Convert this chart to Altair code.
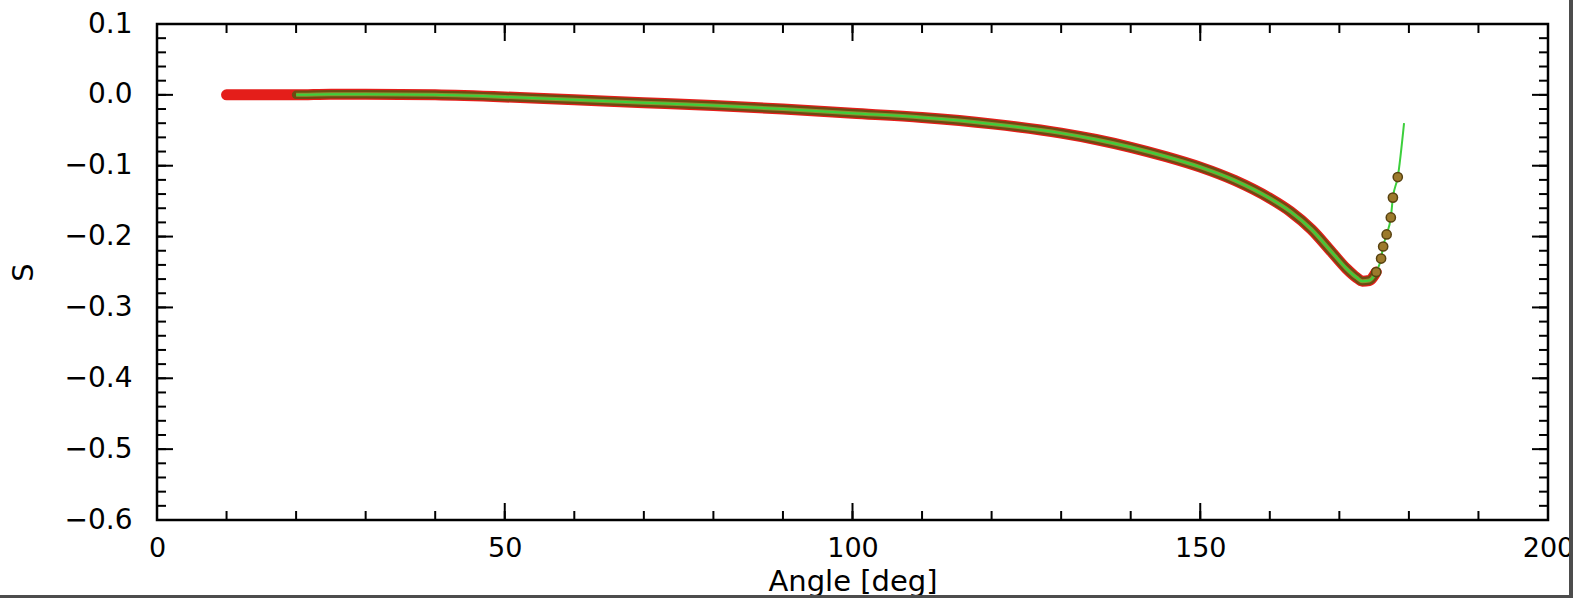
import altair as alt
import pandas as pd

# ---- data ----
angle_obs = [10, 15, 20, 25, 30, 40, 50, 60, 70, 80, 90, 100, 110, 120, 130, 135, 140, 145,
             150, 155, 160, 163, 166, 169, 171, 172.5, 173.3, 174.3, 175.3, 176.0, 176.3,
             176.8, 177.4, 177.7, 178.4]
s_obs = [0.0, 0.0, 0.0, 0.001, 0.001, 0.0, -0.003, -0.007, -0.011, -0.015, -0.020, -0.026,
         -0.032, -0.041, -0.054, -0.063, -0.074, -0.087, -0.102, -0.121, -0.146, -0.165,
         -0.190, -0.223, -0.245, -0.258, -0.263, -0.262, -0.250, -0.231, -0.214, -0.197,
         -0.173, -0.145, -0.116]

angle_model = [20, 25, 30, 40, 50, 60, 70, 80, 90, 100, 110, 120, 130, 135, 140, 145, 150,
               155, 160, 163, 166, 169, 171, 172.5, 173.3, 174.3, 175.3, 176.0, 176.3, 176.8,
               177.4, 177.7, 178.4, 179.3]
s_model = [0.0, 0.001, 0.001, 0.0, -0.003, -0.007, -0.011, -0.015, -0.020, -0.026, -0.032,
           -0.041, -0.054, -0.063, -0.074, -0.087, -0.102, -0.121, -0.146, -0.165, -0.190,
           -0.223, -0.245, -0.258, -0.263, -0.262, -0.250, -0.231, -0.214, -0.197, -0.173,
           -0.145, -0.116, -0.040]

x_labels = [0, 50, 100, 150, 200]
x_minor = [0, 10, 20, 30, 40, 50, 60, 70, 80, 90, 100, 110, 120, 130, 140, 150, 160, 170,
           180, 190, 200]
y_labels = [-0.6, -0.5, -0.4, -0.3, -0.2, -0.1, 0.0, 0.1]
y_minor = [round(-0.6 + 0.02 * i, 2) for i in range(36)]

W, H = 1391, 496
FONT = "DejaVu Sans"

obs = pd.DataFrame({"angle": angle_obs, "s": s_obs})
model = pd.DataFrame({"angle": angle_model, "s": s_model})
xt_minor = pd.DataFrame({"v": x_minor})
xt_major = pd.DataFrame({"v": x_labels})
yt_minor = pd.DataFrame({"v": y_minor})
yt_major = pd.DataFrame({"v": y_labels})

xscale = alt.Scale(domain=[0, 200], nice=False, zero=False)
yscale = alt.Scale(domain=[-0.6, 0.1], nice=False, zero=False)

x_axis = alt.Axis(values=x_labels, format="d", domain=False, ticks=False, tickSize=0,
                  grid=False, labelFont=FONT, labelFontSize=27, labelFontWeight=500,
                  labelColor="black", labelPadding=15, labelFlush=False,
                  title="Angle [deg]", titleFont=FONT, titleFontSize=29,
                  titleFontWeight=500, titleColor="black",
                  titleBaseline="top", titleY=47)
y_axis = alt.Axis(values=y_labels, format=".1f", domain=False, ticks=False, tickSize=0,
                  grid=False, labelFont=FONT, labelFontSize=28, labelFontWeight=500,
                  labelColor="black", labelPadding=25, labelFlush=False, title="S",
                  titleFont=FONT, titleFontSize=29, titleFontWeight=500,
                  titleColor="black", titleAngle=-90, titleBaseline="middle",
                  titleAlign="center", titleX=-134, titleY=H / 2)

X = alt.X("angle:Q", scale=xscale, axis=x_axis)
Y = alt.Y("s:Q", scale=yscale, axis=y_axis)

base_obs = alt.Chart(obs)

red = base_obs.mark_line(color="#e41e1a", strokeWidth=11, strokeCap="round",
                         interpolate="monotone").encode(x=X, y=Y).transform_filter(
    "datum.angle <= 175.3")
brown = base_obs.mark_line(color="#6e4b12", strokeWidth=8.5, strokeCap="round",
                           interpolate="monotone").encode(x=X, y=Y).transform_filter(
    "datum.angle >= 20 && datum.angle <= 175.3")
olive = base_obs.mark_line(color="#8c9230", strokeWidth=4,
                           interpolate="monotone").encode(x=X, y=Y).transform_filter(
    "datum.angle >= 20 && datum.angle <= 175.3")
pts = base_obs.mark_point(shape="circle", filled=True, size=85, color="#9c7a2c",
                          stroke="#584210", strokeWidth=1.5, opacity=1).encode(
    x=X, y=Y).transform_filter("datum.angle >= 175.3")
green = alt.Chart(model).mark_line(color="#3ccf3c", strokeWidth=2,
                                   interpolate="monotone").encode(x=X, y=Y)


def xticks(df, length):
    c = alt.Chart(df).mark_rule(color="black", strokeWidth=2)
    xv = alt.X("v:Q", scale=xscale, axis=x_axis)
    bottom = c.encode(x=xv, y=alt.value(H), y2=alt.value(H - length))
    top = c.encode(x=xv, y=alt.value(0), y2=alt.value(length))
    return [bottom, top]


def yticks(df, length):
    c = alt.Chart(df).mark_rule(color="black", strokeWidth=2)
    yv = alt.Y("v:Q", scale=yscale, axis=y_axis)
    left = c.encode(y=yv, x=alt.value(0), x2=alt.value(length))
    right = c.encode(y=yv, x=alt.value(W), x2=alt.value(W - length))
    return [left, right]


ticks = xticks(xt_minor, 9) + xticks(xt_major, 17) + yticks(yt_minor, 9) + yticks(yt_major, 16)

strip_df = pd.DataFrame({"k": [0]})
strip_r = alt.Chart(strip_df).mark_rect(color="#4d4d4d").encode(
    x=alt.value(W + 21), x2=alt.value(W + 30), y=alt.value(-30), y2=alt.value(H + 90))
strip_b = alt.Chart(strip_df).mark_rect(color="#4d4d4d").encode(
    x=alt.value(-200), x2=alt.value(W + 30), y=alt.value(H + 75), y2=alt.value(H + 90))

chart = alt.layer(red, brown, olive, green, pts, *ticks, strip_r, strip_b).properties(
    width=W, height=H,
    padding={"left": 157, "top": 24, "right": 25, "bottom": 78},
    autosize=alt.AutoSizeParams(type="none"),
    background="white",
).configure_view(stroke="black", strokeWidth=2.5)

chart.save("out.html", embed_options={"renderer": "svg", "actions": False})
